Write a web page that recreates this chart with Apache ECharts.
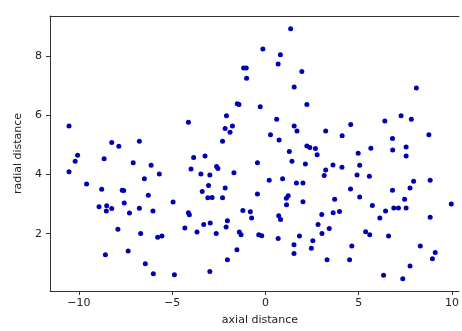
<!DOCTYPE html>
<html>
<head>
<meta charset="utf-8">
<script src="https://cdn.jsdelivr.net/npm/echarts@6/dist/echarts.min.js"></script>
<style>
  html, body { margin: 0; padding: 0; background: #fff; }
  #chart { width: 462px; height: 331px; }
</style>
</head>
<body>
<div id="chart"></div>
<script>
// values
var axialDistance = [
  -10.53, -10.07, -8.24, -7.86, -6.76, -8.65, -10.20, -10.53, -9.59, -7.09,
  -6.13, -6.49, -5.69, -8.78, -7.68, -7.60, -7.57, -6.28, -8.92, -8.51,
  -8.53, -8.24, -7.29, -6.76, -6.03, -7.91, -6.69, -5.78, -5.55, -8.58,
  -7.36, -6.44, -6.01,
  1.35, -0.14, 0.80, 0.68, -1.17, -1.03, -1.01, 1.95, 1.54, -1.51,
  -1.42, -0.28, 2.22, -4.13, -2.09, 0.60, -2.16, -1.77, -1.90, 1.54,
  1.69, 0.27, 0.73, -2.30, 2.22, 1.28, -3.85, -3.24, -3.99, -2.62,
  -2.55, -3.46, -2.98, -1.69, -0.43, 1.42, 2.14, 0.20, 0.92, 1.66,
  2.01, -3.05, -3.39, -2.16, -3.09, -2.86, -2.30, -4.95, -0.43, 1.12,
  1.22, 1.13, 2.01, -4.13, -4.08, -1.21, -0.81, -0.74, 0.71, 0.81,
  -2.04, -2.96, -3.31, -4.32, -3.67, -2.11, -2.64, -1.40, -1.31, -0.36,
  -0.20, 0.68, 1.82, -1.53, 1.53, 1.53, -2.04, -4.88, -2.98,
  2.38, 2.68, 2.77, 4.97, 5.65, 6.82, 7.54, 7.54, 3.23, 3.15,
  3.62, 4.10, 5.05, 4.91, 5.57, 3.71, 4.56, 5.05, 7.94, 7.75,
  8.83, 6.81, 7.46, 5.73, 6.44, 6.88, 7.13, 7.54, 9.96, 3.02,
  3.63, 3.97, 6.13, 8.83, 2.82, 3.42, 3.03, 5.37, 5.59, 6.60,
  2.54, 2.46, 4.63, 8.30, 9.10, 8.95, 3.30, 4.51, 7.75, 6.33,
  7.36, 8.09, 3.23, 4.57, 4.11, 6.40, 7.27, 7.82, 6.81, 8.76
];
var radialDistance = [
  5.63, 4.65, 5.08, 4.95, 5.12, 4.53, 4.44, 4.09, 3.68, 4.39,
  4.31, 3.85, 4.01, 3.50, 3.47, 3.46, 3.04, 3.30, 2.91, 2.94,
  2.77, 2.85, 2.70, 2.86, 2.77, 2.15, 2.01, 1.88, 1.92, 1.29,
  1.42, 0.99, 0.65,
  8.91, 8.23, 8.03, 7.72, 7.59, 7.59, 7.24, 7.47, 6.95, 6.38,
  6.36, 6.28, 6.36, 5.76, 5.98, 5.86, 5.55, 5.63, 5.42, 5.63,
  5.46, 5.34, 5.16, 5.12, 4.96, 4.77, 4.57, 4.62, 4.18, 4.27,
  4.20, 4.01, 3.98, 4.06, 4.39, 4.44, 4.35, 3.80, 3.85, 3.71,
  3.71, 3.63, 3.42, 3.54, 3.21, 3.22, 3.21, 3.07, 3.34, 3.20,
  3.28, 2.98, 3.08, 2.71, 2.64, 2.78, 2.74, 2.53, 2.61, 2.48,
  2.44, 2.36, 2.31, 2.19, 2.06, 2.23, 2.01, 2.06, 1.97, 1.97,
  1.93, 1.84, 1.92, 1.46, 1.63, 1.33, 1.12, 0.62, 0.73,
  4.91, 4.87, 4.66, 4.71, 4.88, 4.82, 4.92, 4.62, 4.15, 3.96,
  4.32, 4.24, 4.31, 3.98, 3.94, 3.16, 3.51, 3.24, 3.77, 3.54,
  3.80, 3.47, 3.16, 2.95, 2.77, 2.87, 2.87, 2.87, 3.00, 2.65,
  2.71, 2.75, 2.53, 2.56, 2.31, 2.18, 2.01, 2.07, 1.97, 1.92,
  1.76, 1.51, 1.59, 1.59, 1.37, 1.16, 1.12, 1.12, 0.91, 0.60,
  0.48, 6.91, 5.46, 5.68, 5.30, 5.80, 5.98, 5.86, 5.21, 5.34
];
var xTicks = [-10, -5, 0, 5, 10];
var yTicks = [2, 4, 6, 8];

var chart = echarts.init(document.getElementById('chart'), null, { renderer: 'canvas' });

var points = axialDistance.map(function (x, i) {
  return [x, radialDistance[i]];
});

function minusSign(v) {
  return String(v).replace('-', '\u2212');
}

// the right spine of the original figure is cut off by the picture edge
var xMin = -11.55, xMax = 10.37;

var lineStyle = { color: '#333', width: 1 };
var labelFont = { fontFamily: 'DejaVu Sans', fontSize: 11, color: '#222' };

var option = {
  backgroundColor: '#ffffff',
  animation: false,
  grid: {
    left: 50,
    right: 0,
    top: 16,
    bottom: 38
  },
  xAxis: [{
    type: 'value',
    min: xMin,
    max: xMax,
    name: 'axial distance',
    nameLocation: 'middle',
    nameGap: 24,
    // label sits at the centre of the full (uncropped) axes
    nameTextStyle: Object.assign({ padding: [0, 0, 0, 11] }, labelFont),
    axisLine: { show: true, onZero: false, lineStyle: lineStyle },
    axisTick: { show: true, length: 4, customValues: xTicks, lineStyle: lineStyle },
    axisLabel: Object.assign({ customValues: xTicks, formatter: minusSign, margin: 7 }, labelFont),
    splitLine: { show: false }
  }, {
    // top spine
    type: 'value',
    position: 'top',
    min: xMin,
    max: xMax,
    axisLine: { show: true, onZero: false, lineStyle: lineStyle },
    axisTick: { show: false },
    axisLabel: { show: false },
    splitLine: { show: false }
  }],
  yAxis: {
    type: 'value',
    min: 0.07,
    max: 9.34,
    name: 'radial distance',
    nameLocation: 'middle',
    nameRotate: 90,
    nameGap: 24,
    nameTextStyle: labelFont,
    axisLine: { show: true, onZero: false, lineStyle: lineStyle },
    axisTick: { show: true, length: 4, customValues: yTicks, lineStyle: lineStyle },
    axisLabel: Object.assign({ customValues: yTicks, margin: 8 }, labelFont),
    splitLine: { show: false }
  },
  series: [{
    type: 'scatter',
    xAxisIndex: 0,
    data: points,
    symbolSize: 5,
    itemStyle: { color: '#0000b4', opacity: 1 }
  }]
};

chart.setOption(option);
</script>
</body>
</html>
